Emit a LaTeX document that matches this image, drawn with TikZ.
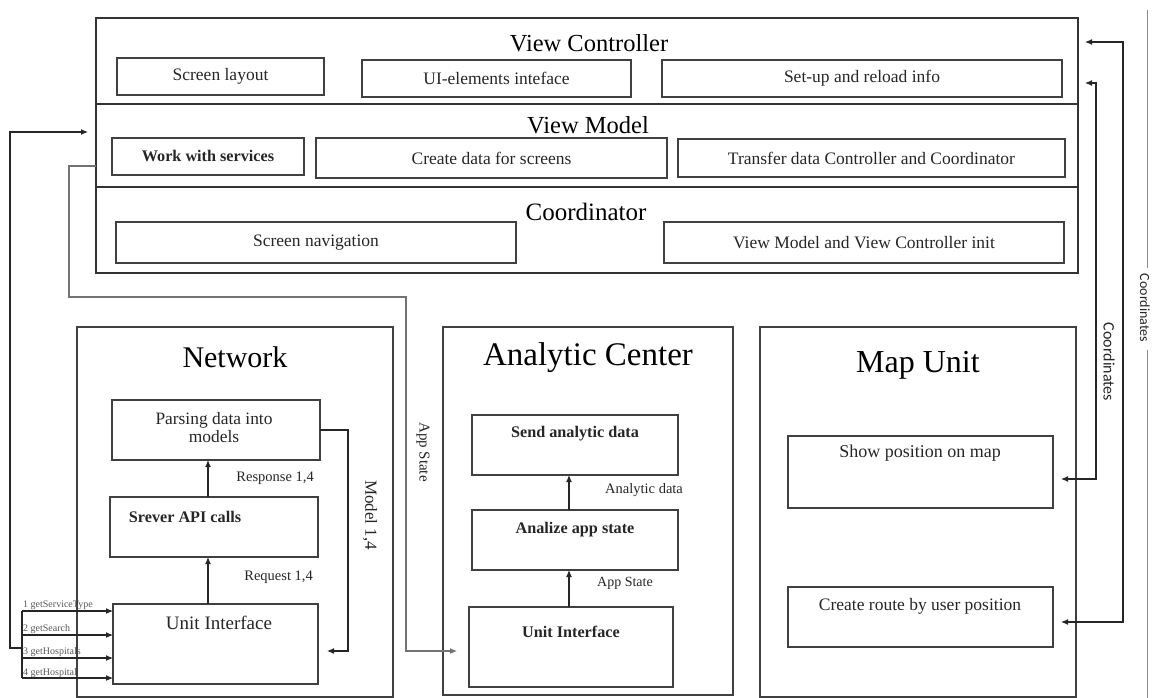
\documentclass[tikz,border=0pt]{standalone}
\usepackage{fontspec}
\setmainfont{Liberation Serif}
\newfontfamily\calfont{Carlito}
\usetikzlibrary{arrows.meta,calc}

\tikzset{
  frame/.style={draw=black!80, line width=1.4pt},
  sub/.style={draw=black!75, line width=1.1pt},
  wire/.style={draw=black!85, line width=1.1pt, -{Latex[length=7pt,width=6pt]}},
  dwire/.style={draw=black!85, line width=1.1pt, {Latex[length=7pt,width=6pt]}-{Latex[length=7pt,width=6pt]}},
  gwire/.style={wire, draw=black!55},
  ttl/.style={font=\fontsize{24.5}{28}\selectfont, inner sep=0, anchor=base},
  big/.style={font=\fontsize{32}{36}\selectfont, inner sep=0},
  txt/.style={font=\fontsize{17.5}{20}\selectfont, inner sep=0, text=black!85},
  btxt/.style={font=\bfseries\fontsize{16.2}{19}\selectfont, inner sep=0, text=black!85},
  lbl/.style={font=\fontsize{14.5}{16}\selectfont, inner sep=0, text=black!85},
  small/.style={font=\fontsize{10}{12}\selectfont, inner sep=0, text=black!65},
  side/.style={font=\calfont\fontsize{16}{18}\selectfont, inner sep=0, rotate=-90, text=black!85},
}
% box with top-left corner (#2,#3) and bottom-right corner (#4,#5)
\newcommand\bx[6]{\node[#6, anchor=north west, inner sep=0, outer sep=0,
  minimum width={(#4)-(#2)}, minimum height={(#5)-(#3)}] (#1) at (#2,#3) {};}

\begin{document}
\begin{tikzpicture}[x=1pt,y=-1pt]
\useasboundingbox[fill=white] (0,0) rectangle (1153,698);

% ---- upper block: View Controller / View Model / Coordinator ----
\bx{vc}{96}{18}{1078}{104}{frame}
\bx{vm}{96}{104}{1078}{187}{frame}
\bx{co}{96}{187}{1078}{273}{frame}

\node[ttl] (vct) at (589,52) {View Controller};
\bx{vc1}{117}{58}{324}{95}{sub}
\bx{vc2}{362}{60}{631}{97}{sub}
\bx{vc3}{662}{60}{1062}{97}{sub}
\node[txt] (vc1t) at (vc1) {Screen layout};
\node[txt] (vc2t) at (vc2) {UI-elements inteface};
\node[txt] (vc3t) at (vc3) {Set-up and reload info};

\node[ttl] (vmt) at (588,134) {View Model};
\bx{vm1}{112}{138}{304}{175}{sub}
\bx{vm2}{316}{138}{667}{178}{sub}
\bx{vm3}{678}{139}{1065}{177}{sub}
\node[btxt] (vm1t) at (vm1) {Work with services};
\node[txt] (vm2t) at (vm2) {Create data for screens};
\node[txt] (vm3t) at (vm3) {Transfer data Controller and Coordinator};

\node[ttl, font=\fontsize{25}{28}\selectfont] (cot) at (586,220) {Coordinator};
\bx{co1}{116}{222}{516}{263}{sub}
\bx{co2}{664}{222}{1064}{263}{sub}
\node[txt] (co1t) at (co1) {Screen navigation};
\node[txt] (co2t) at (co2) {View Model and View Controller init};

% ---- Network ----
\bx{net}{77}{327}{393}{697}{sub}
\node[big, font=\fontsize{30}{34}\selectfont] (nett) at (235,357) {Network};
\bx{parse}{112}{400}{320}{460}{sub}
\node[txt, align=center, font=\fontsize{17.4}{18}\selectfont] (parset) at (214,428) {Parsing data into\\models};
\bx{api}{110}{497}{318}{557}{sub}
\node[btxt] (apit) at (185,517) {Srever API calls};
\bx{ui1}{113}{604}{318}{684}{sub}
\node[txt, font=\fontsize{19}{22}\selectfont] (ui1t) at (219,623) {Unit Interface};

\coordinate (nx) at (208,0);
\draw[wire] (nx |- ui1.north) -- (nx |- api.south);
\draw[wire] (nx |- api.north) -- (nx |- parse.south);
\node[lbl, anchor=east] (resp) at (314,478) {Response 1,4};
\node[lbl, anchor=east] (req) at (313,577) {Request 1,4};

\coordinate (m1) at (348,651);
\draw[wire, shorten >=9pt] (parse.east) -| (m1) -- (m1 -| ui1.east);
\node[lbl, font=\fontsize{17}{19}\selectfont, rotate=-90] (modl) at (370,515) {Model 1,4};

% four requests entering the network unit
\coordinate (b1) at (22,611);
\coordinate (b2) at (22,635);
\coordinate (b3) at (22,658);
\coordinate (b4) at (22,678);
\draw[draw=black!85, line width=1.1pt] (b1) -- (b4);
\foreach \b in {b1,b2,b3,b4} \draw[wire] (\b) -- (\b -| ui1.west);
\node[small, anchor=base west] (g1) at (23,607) {1 getServiceType};
\node[small, anchor=base west] (g2) at (23,631) {2 getSearch};
\node[small, anchor=base west] (g3) at (23,654) {3 getHospitals};
\node[small, anchor=base west] (g4) at (23,675) {4 getHospital};

% results handed back to the View Model
\coordinate (l1) at (22,648);
\coordinate (l2) at (10,132);
\draw[wire, shorten >=8pt] (l1) -| (l2) -- (l2 -| vm.west);

% app state sent to the analytic center
\coordinate (s0) at (69,166);
\coordinate (s1) at (406,297);
\coordinate (s2) at (406,651);
\bx{ac}{443}{327}{733}{695}{sub}
\bx{ui2}{469}{607}{673}{687}{sub}
\draw[gwire, shorten >=12pt] (vm.west |- s0) -- (s0) |- (s1) -- (s2) -- (s2 -| ui2.west);
\node[lbl, font=\fontsize{15}{17}\selectfont, rotate=-90] (appl) at (423,452) {App State};

% ---- Analytic Center ----
\node[big, font=\fontsize{33}{37}\selectfont] (act) at (588,358) {Analytic Center};
\bx{send}{472}{415}{678}{475}{sub}
\bx{anl}{472}{510}{678}{570}{sub}
\node[btxt] (sendt) at (575,434) {Send analytic data};
\node[btxt] (anlt) at (575,530) {Analize app state};
\node[btxt] (ui2t) at (571,632) {Unit Interface};
\coordinate (ax) at (569,0);
\draw[wire] (ax |- ui2.north) -- (ax |- anl.south);
\draw[wire] (ax |- anl.north) -- (ax |- send.south);
\node[lbl, anchor=west] (adl) at (605,490) {Analytic data};
\node[lbl, anchor=west, font=\fontsize{14}{16}\selectfont] (asl) at (597,583) {App State};

% ---- Map Unit ----
\bx{map}{760}{327}{1076}{697}{sub}
\node[big] (mapt) at (918,365) {Map Unit};
\bx{show}{788}{436}{1053}{508}{sub}
\bx{route}{788}{587}{1053}{647}{sub}
\node[txt, font=\fontsize{18}{20}\selectfont] (showt) at (920,453) {Show position on map};
\node[txt] (routet) at (920,606) {Create route by user position};

% coordinates exchanged with the view controller
\coordinate (r1) at (1123,42);
\coordinate (r2) at (1096,83);
\coordinate (e1) at (0,479);
\coordinate (e2) at (0,622);
\draw[dwire, shorten <=7pt, shorten >=8pt] (r1 -| vc.east) -- (r1) |- (route.east |- e2);
\draw[dwire, shorten <=7pt, shorten >=8pt] (r2 -| vc.east) -- (r2) |- (show.east |- e1);
\node[side] (cl1) at (1109,362) {Coordinates};

% margin rule
\draw[black!45, line width=0.8pt] (1147,10) -- (1147,268);
\draw[black!45, line width=0.8pt] (1147,350) -- (1147,698);
\node[side, font=\calfont\fontsize{14}{16}\selectfont] (cl2) at (1145,308) {Coordinates};
\end{tikzpicture}
\end{document}
